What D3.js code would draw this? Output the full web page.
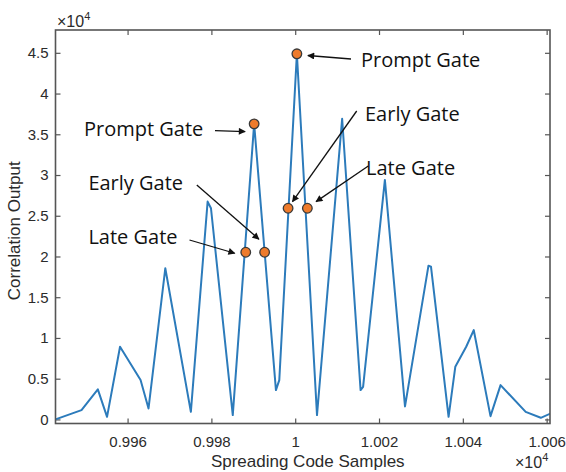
<!DOCTYPE html>
<html>
<head>
<meta charset="utf-8">
<script src="https://cdn.jsdelivr.net/npm/d3@7"></script>
<style>
  body { margin: 0; background: #fff; }
  text { font-family: "Liberation Sans", Arial, sans-serif; fill: #2b2b2b; }
  .note { font-family: "Open Sans", "Noto Sans", sans-serif; fill: #111; }
</style>
</head>
<body>
<div class="canvas"></div>
<script>
// correlation curve
const samples = [9942.8, 9949, 9952.9, 9955.1, 9958.2, 9963.1, 9965, 9969, 9975.1, 9979.1, 9979.9,
  9985.1, 9990.2, 9995.4, 9996.2, 10000.4, 10005.2, 10011.2, 10015.6, 10016.2, 10021.4,
  10026.2, 10031.8, 10032.4, 10036.6, 10038.2, 10040.8, 10042.6, 10046.6, 10049, 10055, 10058.6, 10061];
const output = [0, 1140, 3690, 320, 8920, 4830, 1350, 18550, 930, 26740, 25920,
  530, 36280, 3600, 4830, 44880, 530, 36900, 3600, 4000, 29400,
  1600, 18870, 18750, 320, 6460, 8920, 10970, 400, 4210, 930, 200, 740];

// gate markers
const gateSamples = [10000.4, 9990.2, 9988.2, 9992.7, 9998.3, 10002.9];
const gateValues = [44880, 36280, 20520, 20520, 25920, 25920];
const gateLabels = ['Prompt Gate', 'Prompt Gate', 'Late Gate', 'Early Gate', 'Early Gate', 'Late Gate'];

const xTicks = [9960, 9980, 10000, 10020, 10040, 10060];
const yTicks = [0, 5000, 10000, 15000, 20000, 25000, 30000, 35000, 40000, 45000];

const dims = { width: 566, height: 472 };
const box = { left: 55.5, right: 550, top: 30, bottom: 423.5 };

const svg = d3.select('.canvas')
    .append('svg')
    .attr('width', dims.width)
    .attr('height', dims.height);

const x = d3.scaleLinear().domain([9942.8, 10060.8]).range([box.left, box.right]);
const y = d3.scaleLinear().domain([-500, 47800]).range([box.bottom, box.top]);

const fmt = d => String(+(d / 1e4).toFixed(3));

// axes (ticks point inward, like matlab)
const axisCol = '#555';
const styleAxis = g => {
    g.select('.domain').remove();
    g.selectAll('line').attr('stroke', axisCol).attr('stroke-width', 1.2);
};

svg.append('g')
    .attr('transform', `translate(0, ${box.bottom})`)
    .call(d3.axisBottom(x).tickValues(xTicks).tickFormat(fmt).tickSizeInner(-5).tickSizeOuter(0).tickPadding(13))
    .call(styleAxis)
    .selectAll('text').style('font-size', '15px').attr('fill', '#333');

svg.append('g')
    .attr('transform', `translate(0, ${box.top})`)
    .call(d3.axisTop(x).tickValues(xTicks).tickFormat('').tickSizeInner(-5).tickSizeOuter(0))
    .call(styleAxis);

svg.append('g')
    .attr('transform', `translate(${box.left}, 0)`)
    .call(d3.axisLeft(y).tickValues(yTicks).tickFormat(fmt).tickSizeInner(-5).tickSizeOuter(0).tickPadding(7))
    .call(styleAxis)
    .selectAll('text').style('font-size', '15px').attr('fill', '#333');

svg.append('g')
    .attr('transform', `translate(${box.right}, 0)`)
    .call(d3.axisRight(y).tickValues(yTicks).tickFormat('').tickSizeInner(-5).tickSizeOuter(0))
    .call(styleAxis);

// clip + curve
svg.append('clipPath').attr('id', 'plotclip')
    .append('rect')
    .attr('x', box.left).attr('y', box.top)
    .attr('width', box.right - box.left).attr('height', box.bottom - box.top);

const line = d3.line()
    .x((d, i) => x(samples[i]))
    .y(d => y(d));

svg.append('path')
    .datum(output)
    .attr('clip-path', 'url(#plotclip)')
    .attr('d', line)
    .attr('fill', 'none')
    .attr('stroke', '#2c7bbb')
    .attr('stroke-width', 2)
    .attr('stroke-linejoin', 'round');

// box
svg.append('rect')
    .attr('x', box.left).attr('y', box.top)
    .attr('width', box.right - box.left).attr('height', box.bottom - box.top)
    .attr('fill', 'none')
    .attr('stroke', axisCol)
    .attr('stroke-width', 1.6);

// arrows
svg.append('defs').append('marker')
    .attr('id', 'head')
    .attr('viewBox', '0 0 10 10')
    .attr('refX', 9).attr('refY', 5)
    .attr('markerWidth', 9).attr('markerHeight', 7)
    .attr('markerUnits', 'userSpaceOnUse')
    .attr('orient', 'auto')
    .append('path').attr('d', 'M0,0 L10,5 L0,10 z').attr('fill', '#111');

// label spot and arrow tail/head offsets (px) per gate
const notes = [
    { tx: 361, ty: 66.7, ax: 351, ay: 59, hx: 11, hy: 1.7 },
    { tx: 84, ty: 136, ax: 215, ay: 130.7, hx: -9, hy: 7.7 },
    { tx: 88.4, ty: 244, ax: 189.5, ay: 240, hx: -11, hy: 1 },
    { tx: 88.4, ty: 190, ax: 196.8, ay: 185, hx: -5.7, hy: -13 },
    { tx: 365, ty: 120.7, ax: 356.7, ay: 111, hx: 4.4, hy: -6.6 },
    { tx: 366, ty: 175, ax: 368.3, ay: 166, hx: 8.7, hy: -6.6 }
];

notes.forEach((n, i) => {
    const px = x(gateSamples[i]), py = y(gateValues[i]);
    svg.append('line')
        .attr('x1', n.ax).attr('y1', n.ay)
        .attr('x2', px + n.hx).attr('y2', py + n.hy)
        .attr('stroke', '#111')
        .attr('stroke-width', 1.3)
        .attr('marker-end', 'url(#head)');
    svg.append('text')
        .attr('class', 'note')
        .attr('x', n.tx).attr('y', n.ty)
        .style('font-size', '20px')
        .text(gateLabels[i]);
});

svg.selectAll('circle.gate')
    .data(gateValues)
    .enter()
    .append('circle')
    .attr('class', 'gate')
    .attr('cx', (d, i) => x(gateSamples[i]))
    .attr('cy', d => y(d))
    .attr('r', 4.8)
    .attr('fill', '#ee7b2c')
    .attr('stroke', '#3a3a3a')
    .attr('stroke-width', 1.3);

// labels
svg.append('text')
    .attr('x', (box.left + box.right) / 2 + 5).attr('y', 466.7)
    .attr('text-anchor', 'middle')
    .style('font-size', '17px')
    .text('Spreading Code Samples');

svg.append('text')
    .attr('transform', `translate(20, ${(box.top + box.bottom) / 2 + 4}) rotate(-90)`)
    .attr('text-anchor', 'middle')
    .style('font-size', '17px')
    .text('Correlation Output');

// exponent notes
const expo = (xp, yp) => {
    const t = svg.append('text').attr('x', xp).attr('y', yp).style('font-size', '16px').attr('fill', '#444');
    t.append('tspan').text('×10');
    t.append('tspan').attr('dy', -7).style('font-size', '11px').text('4');
};
expo(57, 27);
expo(515, 468);
</script>
</body>
</html>
